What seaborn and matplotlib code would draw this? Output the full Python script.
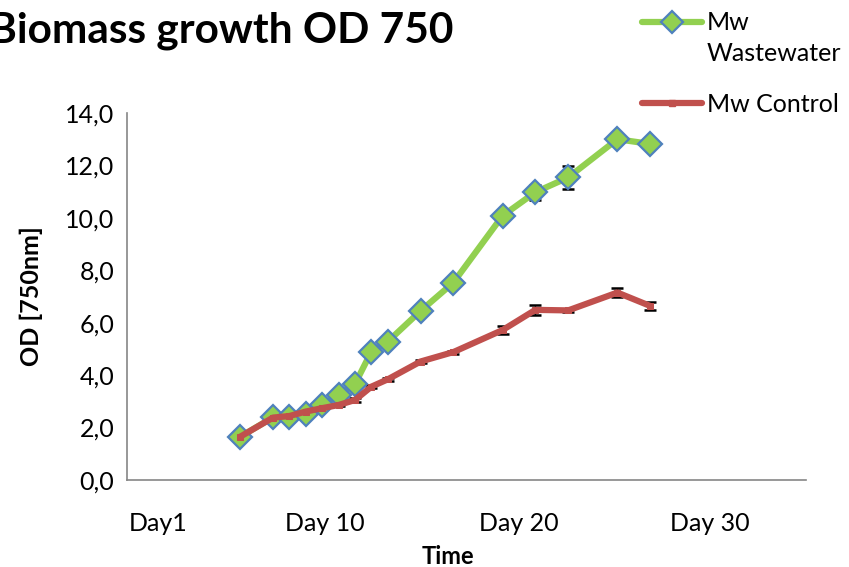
import numpy as np
import pandas as pd
import seaborn as sns
import matplotlib.pyplot as plt

# sample days (relative, first sample = 0)
sample_day = [0, 2, 3, 4, 5, 6, 7, 8, 9, 11, 13, 16, 18, 20, 23, 25]

# OD 750 readings
od_wastewater = [1.65, 2.39, 2.39, 2.52, 2.86, 3.24, 3.66, 4.90, 5.28,
                 6.45, 7.53, 10.08, 10.98, 11.54, 13.00, 12.82]
od_control = [1.65, 2.38, 2.44, 2.61, 2.74, 2.86, 3.05, 3.56, 3.84,
              4.52, 4.88, 5.72, 6.49, 6.47, 7.15, 6.64]

# error bars
err_wastewater = [0.05, 0.05, 0.05, 0.05, 0.06, 0.08, 0.08, 0.1, 0.1,
                  0.12, 0.12, 0.1, 0.28, 0.43, 0.15, 0.15]
err_control = [0.03, 0.05, 0.05, 0.05, 0.05, 0.05, 0.06, 0.06, 0.06,
               0.04, 0.06, 0.15, 0.19, 0.05, 0.17, 0.16]

tick_labels = ["Day1", "Day 10", "Day 20", "Day 30"]
tick_pos = [-5.0, 5.18, 17.0, 28.66]

df = pd.DataFrame({
    "Day": sample_day * 2,
    "OD": od_wastewater + od_control,
    "err": err_wastewater + err_control,
    "Series": ["Mw Wastewater"] * len(sample_day) + ["Mw Control"] * len(sample_day),
})

sns.set_style("white")
plt.rcParams["font.family"] = ["Lato", "DejaVu Sans"]
plt.rcParams["text.color"] = "black"
plt.rcParams["axes.labelcolor"] = "black"

green = "#92D050"
blue_edge = "#4F81BD"
red = "#C0504D"

fig = plt.figure(figsize=(8.49, 5.67), dpi=100)
ax = fig.add_axes([127 / 849, 1 - 480 / 567, (806 - 127) / 849, (480 - 113) / 567])

ww = df[df["Series"] == "Mw Wastewater"]
ct = df[df["Series"] == "Mw Control"]

# error bars sit behind the markers
for sub in (ww, ct):
    ax.errorbar(sub["Day"], sub["OD"], yerr=sub["err"], fmt="none",
                ecolor="black", elinewidth=1.0, capsize=4.5, capthick=1.8, zorder=2)

sns.lineplot(data=ww, x="Day", y="OD", ax=ax, color=green, linewidth=4.5,
             marker="D", markersize=12, markerfacecolor=green,
             markeredgecolor=blue_edge, markeredgewidth=1.6,
             zorder=3, solid_joinstyle="round", legend=False)
sns.lineplot(data=ct, x="Day", y="OD", ax=ax, color=red, linewidth=4.5,
             marker="s", markersize=4, markerfacecolor=red, markeredgecolor=red,
             zorder=4, solid_joinstyle="round", legend=False)

ax.set_xlim(-6.9, 34.5)
ax.set_ylim(0, 14)
ax.set_yticks(np.arange(0, 15, 2))
ax.set_yticklabels([f"{v:.1f}".replace(".", ",") for v in np.arange(0, 15, 2)])
ax.set_xticks(tick_pos)
ax.set_xticklabels(tick_labels)
ax.tick_params(axis="both", length=0, labelsize=18, colors="black")
ax.tick_params(axis="x", pad=23)
ax.tick_params(axis="y", pad=9)

for s in ["top", "right"]:
    ax.spines[s].set_visible(False)
for s in ["left", "bottom"]:
    ax.spines[s].set_color("#868686")
    ax.spines[s].set_linewidth(1.2)

ax.set_xlabel("Time", fontsize=17, fontweight="bold", color="black")
ax.set_ylabel("OD [750nm]", fontsize=18, fontweight="bold", color="black")
ax.xaxis.set_label_coords((448 - 127) / (806 - 127), -(545 - 480) / (480 - 113))
ax.yaxis.set_label_coords(-(127 - 43) / (806 - 127), 0.5)

fig.text(453 / 849, 1 - 43 / 567, "Biomass growth OD 750", ha="right",
         va="baseline", fontsize=30.5, fontweight="bold", color="black")

# legend: green entry spans two lines with the handle on the first
h_ww = plt.Line2D([], [], color=green, linewidth=4.5, marker="D", markersize=11,
                  markerfacecolor=green, markeredgecolor=blue_edge, markeredgewidth=1.6)
h_blank = plt.Line2D([], [], color="none")
h_ct = plt.Line2D([], [], color=red, linewidth=4.5, marker="s", markersize=4,
                  markerfacecolor=red, markeredgecolor=red)

leg1 = ax.legend([h_ww, h_blank], ["Mw", "Wastewater"], loc="center left",
                 bbox_to_anchor=(642 / 849, 1 - 38 / 567),
                 bbox_transform=fig.transFigure, frameon=False, fontsize=18,
                 handlelength=2.4, handletextpad=0.2, labelspacing=0.3,
                 borderpad=0, borderaxespad=0, labelcolor="black")
ax.add_artist(leg1)
ax.legend([h_ct], ["Mw Control"], loc="center left",
          bbox_to_anchor=(642 / 849, 1 - 104 / 567),
          bbox_transform=fig.transFigure, frameon=False, fontsize=18,
          handlelength=2.4, handletextpad=0.2, borderpad=0, borderaxespad=0,
          labelcolor="black")

fig.savefig("out.png", dpi=100)
